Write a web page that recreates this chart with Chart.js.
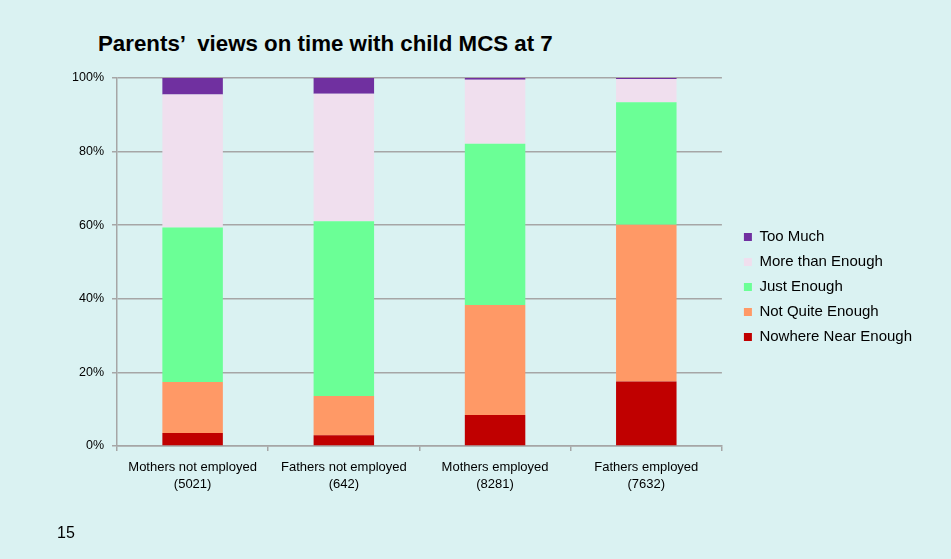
<!DOCTYPE html>
<html lang="en">
<head>
  <meta charset="UTF-8" />
  <title>Parents' views on time with child MCS at 7</title>
  <script src="https://cdn.jsdelivr.net/npm/chart.js"></script>
  <style>
    html, body { margin: 0; padding: 0; }
    body { width: 951px; height: 559px; background: #DAF2F2; position: relative; overflow: hidden;
           font-family: "Liberation Sans", Arial, sans-serif; }
    #wrap { position: absolute; left: 0; top: 0; width: 951px; height: 559px; }
    .title { position: absolute; left: 98px; top: 30px; font-size: 22.3px; font-weight: bold;
             white-space: pre; color: #000; line-height: 28px; }
    .page { position: absolute; left: 57px; top: 523px; font-size: 16px; color: #000; line-height: 20px; }
  </style>
</head>
<body>
  <div class="title">Parents’  views on time with child MCS at 7</div>
  <div id="wrap"><canvas id="chart"></canvas></div>
  <div class="page">15</div>

  <script>
    // groups along the x axis (two lines each)
    const categories = [
      ['Mothers not employed', '(5021)'],
      ['Fathers not employed', '(642)'],
      ['Mothers employed', '(8281)'],
      ['Fathers employed', '(7632)']
    ];

    // percent of each group
    const nowhereNearEnough = [3.5, 2.9, 8.4, 17.5];
    const notQuiteEnough    = [13.9, 10.7, 29.9, 42.6];
    const justEnough        = [42.0, 47.5, 43.8, 33.3];
    const moreThanEnough    = [36.1, 34.6, 17.4, 6.3];
    const tooMuch           = [4.5, 4.3, 0.5, 0.3];

    const yTicks = [0, 20, 40, 60, 80, 100];

    const gridColor = '#A6A6A6';
    const font = "'Liberation Sans', Arial, sans-serif";

    const ctx = document.getElementById('chart');
    new Chart(ctx, {
      type: 'bar',
      data: {
        labels: categories,
        datasets: [
          { label: 'Nowhere Near Enough', data: nowhereNearEnough, backgroundColor: '#C00000' },
          { label: 'Not Quite Enough', data: notQuiteEnough, backgroundColor: '#FF9966' },
          { label: 'Just Enough', data: justEnough, backgroundColor: '#6BFF96' },
          { label: 'More than Enough', data: moreThanEnough, backgroundColor: '#F0DFEE' },
          { label: 'Too Much', data: tooMuch, backgroundColor: '#7030A0' }
        ]
      },
      options: {
        responsive: true,
        maintainAspectRatio: false,
        animation: false,
        datasets: {
          bar: { barPercentage: 0.4, categoryPercentage: 1.0, borderWidth: 0 }
        },
        layout: { padding: { left: 57, top: 78, bottom: 63, right: 29 } },
        plugins: {
          tooltip: { enabled: false },
          legend: {
            position: 'right',
            reverse: true,
            labels: {
              boxWidth: 8,
              boxHeight: 8,
              padding: 10,
              color: '#000',
              font: { family: font, size: 15 }
            }
          }
        },
        scales: {
          x: {
            stacked: true,
            afterFit: (s) => { s.height = 50; },
            grid: { display: true, drawOnChartArea: false, offset: true, color: gridColor, lineWidth: 1.5, tickLength: 5 },
            border: { color: gridColor, width: 1.5 },
            ticks: {
              color: '#000',
              padding: 7,
              maxRotation: 0,
              autoSkip: false,
              font: { family: font, size: 13, lineHeight: 1.38 }
            }
          },
          y: {
            stacked: true,
            min: 0,
            max: 100,
            afterFit: (s) => { s.width = 60; },
            afterBuildTicks: (s) => { s.ticks = yTicks.map(v => ({ value: v })); },
            grid: { color: gridColor, lineWidth: 1.5, tickLength: 5 },
            border: { color: gridColor, width: 1.5 },
            ticks: {
              color: '#000',
              padding: 8,
              font: { family: font, size: 12.5 },
              callback: (v) => v + '%'
            }
          },
          // hidden spacer between the plot and the legend
          gap: {
            position: 'right',
            display: false,
            afterFit: (s) => { s.width = 12; }
          }
        }
      }
    });
  </script>
</body>
</html>
